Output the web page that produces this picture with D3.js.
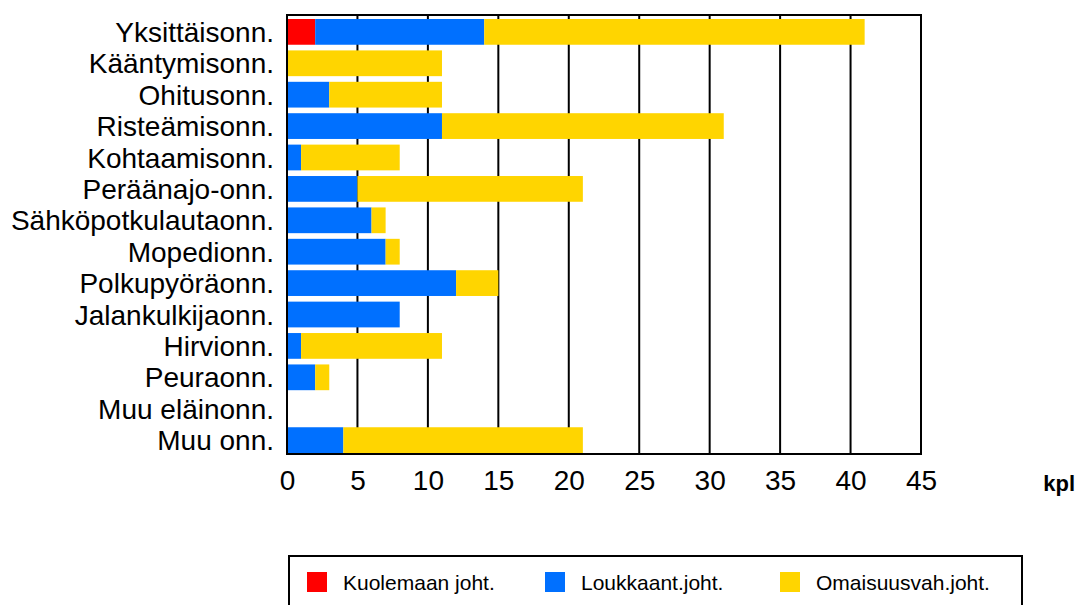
<!DOCTYPE html>
<html>
<head>
<meta charset="utf-8">
<script src="https://cdn.jsdelivr.net/npm/d3@7"></script>
<style>
  body { margin: 0; background: #fff; }
  text { font-family: "Liberation Sans", Arial, sans-serif; fill: #000; }
</style>
</head>
<body>
<div id="chart"></div>
<script>
// accident types, top to bottom
var categories = ["Yksittäisonn.", "Kääntymisonn.", "Ohitusonn.", "Risteämisonn.", "Kohtaamisonn.",
  "Peräänajo-onn.", "Sähköpotkulautaonn.", "Mopedionn.", "Polkupyöräonn.", "Jalankulkijaonn.",
  "Hirvionn.", "Peuraonn.", "Muu eläinonn.", "Muu onn."];
var kuolemaan = [2, 0, 0, 0, 0, 0, 0, 0, 0, 0, 0, 0, 0, 0];
var loukkaant = [12, 0, 3, 11, 1, 5, 6, 7, 12, 8, 1, 2, 0, 4];
var omaisuus  = [27, 11, 8, 20, 7, 16, 1, 1, 3, 0, 10, 1, 0, 17];
var seriesNames = ["Kuolemaan joht.", "Loukkaant.joht.", "Omaisuusvah.joht."];
var seriesColors = ["#ff0000", "#0070ff", "#ffd500"];
var xTicks = [0, 5, 10, 15, 20, 25, 30, 35, 40, 45];

var W = 1077, H = 605;
var plot = {left: 287, top: 15, right: 921, bottom: 454};

var svg = d3.select("#chart").append("svg")
  .attr("width", W).attr("height", H);

var x = d3.scaleLinear().domain([0, 45]).range([plot.left, plot.right]);
var y = d3.scaleBand().domain(categories).range([19, 453])
  .paddingInner(0.18).paddingOuter(0);

// stacked data
var rows = categories.map(function (c, i) {
  return {cat: c, v: [kuolemaan[i], loukkaant[i], omaisuus[i]]};
});
var stack = d3.stack().keys([0, 1, 2]).value(function (d, k) { return d.v[k]; });
var layers = stack(rows);

// grid lines
svg.append("g").selectAll("line")
  .data(xTicks.slice(1, -1))
  .enter().append("line")
    .attr("x1", function (d) { return x(d); })
    .attr("x2", function (d) { return x(d); })
    .attr("y1", plot.top).attr("y2", plot.bottom)
    .attr("stroke", "#000").attr("stroke-width", 2);

// bars
svg.append("g").selectAll("g")
  .data(layers)
  .enter().append("g")
    .attr("fill", function (d, i) { return seriesColors[i]; })
  .selectAll("rect")
  .data(function (d) { return d; })
  .enter().append("rect")
    .attr("x", function (d) { return x(d[0]); })
    .attr("width", function (d) { return x(d[1]) - x(d[0]); })
    .attr("y", function (d) { return y(d.data.cat); })
    .attr("height", y.bandwidth());

// frame
svg.append("rect")
  .attr("x", plot.left).attr("y", plot.top)
  .attr("width", plot.right - plot.left).attr("height", plot.bottom - plot.top)
  .attr("fill", "none").attr("stroke", "#000").attr("stroke-width", 2);

// category labels
svg.append("g").selectAll("text")
  .data(categories)
  .enter().append("text")
    .attr("x", 274)
    .attr("y", function (d) { return y(d) + y.bandwidth() / 2; })
    .attr("dy", "0.36em")
    .attr("text-anchor", "end")
    .style("font-size", "28px")
    .text(function (d) { return d; });

// x axis labels
var xAxis = svg.append("g")
  .attr("transform", "translate(0," + 470 + ")")
  .call(d3.axisBottom(x).tickValues(xTicks).tickSize(0).tickPadding(0));
xAxis.select(".domain").remove();
xAxis.selectAll("text")
  .style("font-size", "28px")
  .style("font-family", "'Liberation Sans', Arial, sans-serif")
  .attr("fill", "#000");

svg.append("text")
  .attr("x", 1075).attr("y", 491)
  .attr("text-anchor", "end")
  .style("font-size", "22px").style("font-weight", "bold")
  .text("kpl");

// legend
var legend = svg.append("g");
legend.append("rect")
  .attr("x", 289).attr("y", 556)
  .attr("width", 733).attr("height", 70)
  .attr("fill", "none").attr("stroke", "#000").attr("stroke-width", 2);
var legX = [307, 545, 780];
var items = legend.selectAll("g.item")
  .data(seriesNames)
  .enter().append("g").attr("class", "item")
    .attr("transform", function (d, i) { return "translate(" + legX[i] + ",572)"; });
items.append("rect")
  .attr("width", 20).attr("height", 20)
  .attr("fill", function (d, i) { return seriesColors[i]; });
items.append("text")
  .attr("x", 36).attr("y", 10).attr("dy", "0.36em")
  .style("font-size", "21px")
  .text(function (d) { return d; });
</script>
</body>
</html>
